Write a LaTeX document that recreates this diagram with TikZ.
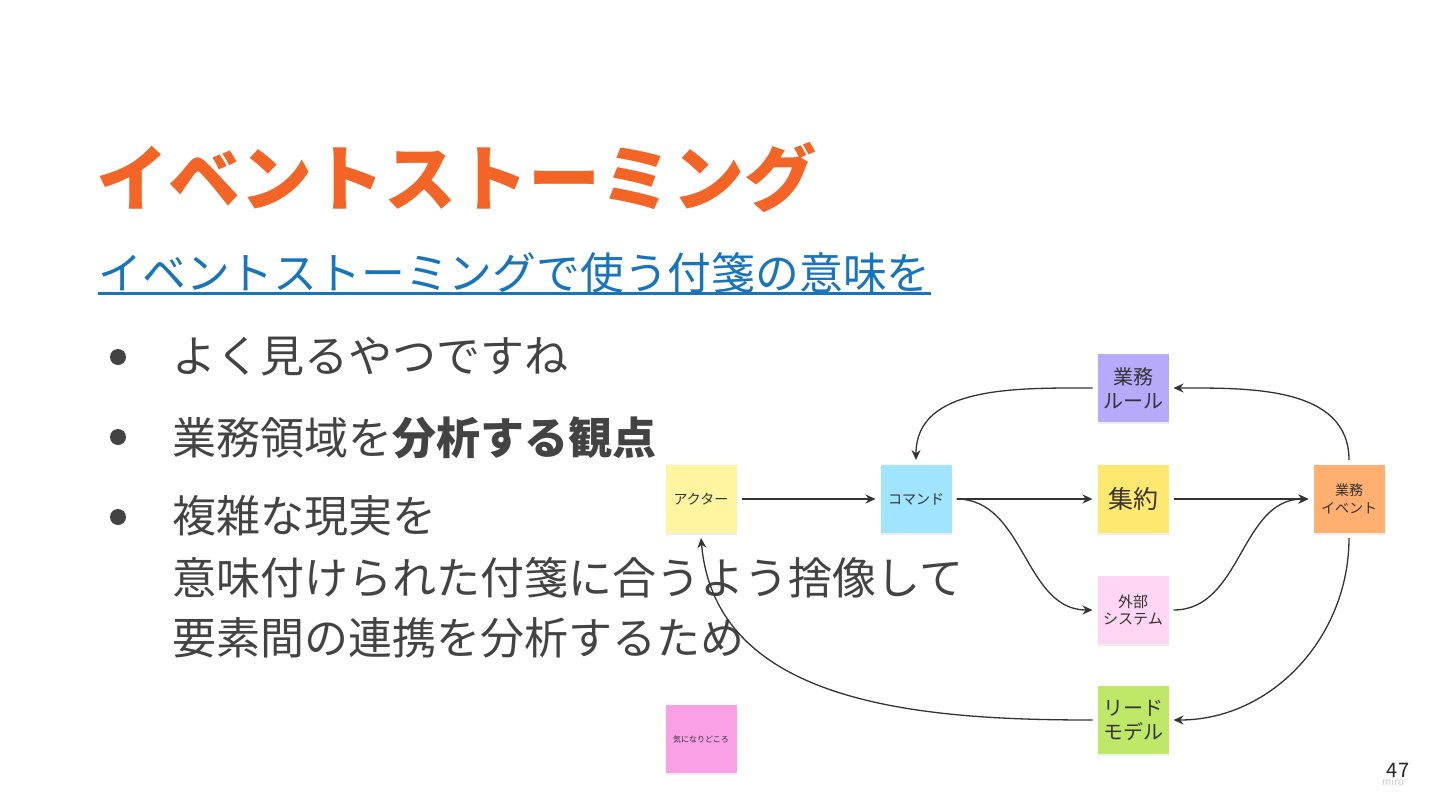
\documentclass[tikz,border=0pt]{standalone}
\usepackage{fontspec}
\setmainfont{Noto Sans CJK JP}
\usetikzlibrary{arrows.meta,shadows}
\definecolor{titleorange}{RGB}{242,101,38}
\definecolor{linkblue}{RGB}{24,116,188}
\definecolor{bodygray}{RGB}{67,67,67}
\definecolor{actoryellow}{RGB}{255,245,160}
\definecolor{commandblue}{RGB}{160,228,255}
\definecolor{rulepurple}{RGB}{184,170,250}
\definecolor{aggyellow}{RGB}{255,232,112}
\definecolor{eventorange}{RGB}{255,176,112}
\definecolor{extpink}{RGB}{255,214,243}
\definecolor{readgreen}{RGB}{192,232,104}
\definecolor{hotpink}{RGB}{250,160,230}
\newcommand{\fs}[2]{\fontsize{#1}{#2}\selectfont}

\begin{document}
\begin{tikzpicture}[x=0.5pt,y=-0.5pt,
  note/.style={minimum width=35.5pt,minimum height=34pt,inner sep=0pt,outer sep=2.5pt,
    align=center,text=black!80,font=\fs{7}{9},
    drop shadow={shadow xshift=0pt,shadow yshift=-1.2pt,opacity=0.12}},
  flow/.style={draw=black!80,line width=0.65pt,-{Stealth[length=5pt,width=4.5pt]}},
  dot/.style={circle,fill=bodygray,inner sep=0pt,minimum size=8pt},
  line/.style={anchor=base west,inner sep=0pt,text=bodygray,font=\fs{22}{26}}]
\useasboundingbox (0,0) rectangle (1440,810);
\fill [white] (0,0) rectangle (1440,810);
% heading
\node [anchor=base west,inner sep=0pt,text=titleorange,font=\fs{36}{40}\bfseries] (title) at (96,205) {イベントストーミング};
\node [anchor=base west,inner sep=0pt,text=linkblue,font=\fs{21.9}{24}] (link) at (98,289) {イベントストーミングで使う付箋の意味を};
\draw [linkblue,line width=1.5pt] ([yshift=-2.4pt]link.base west) -- ([yshift=-2.4pt]link.base east);
% bullets
\node [dot] (dot1) at (118,357) {};
\node [dot] (dot2) at (118,437) {};
\node [dot] (dot3) at (118,517) {};
\node [line] (item1) at (172,372) {よく見るやつですね};
\node [line] (item2) at (172,454) {業務領域を\textbf{分析する観点}};
\node [line] (item3a) at (172,532) {複雑な現実を};
\node [line] (item3b) at (172,594) {意味付けられた付箋に合うよう捨像して};
\node [line] (item3c) at (172,654) {要素間の連携を分析するため};
% sticky notes
\node [note,fill=actoryellow] (actor) at (701,499) {アクター};
\node [note,fill=commandblue] (command) at (916,499) {コマンド};
\node [note,fill=rulepurple,font=\fs{10}{12}] (rule) at (1133,388) {業務\\ルール};
\node [note,fill=aggyellow,font=\fs{12.5}{14}] (aggregate) at (1133,499) {集約};
\node [note,fill=eventorange,font=\fs{7}{9}] (event) at (1349,499) {業務\\イベント};
\node [note,fill=extpink,font=\fs{7.5}{8.5}] (external) at (1133,610) {外部\\システム};
\node [note,fill=readgreen,font=\fs{10}{12}] (readmodel) at (1133,720) {リード\\モデル};
\node [note,fill=hotpink,font=\fs{4}{5}] (hotspot) at (701,739) {気になりどころ};
% connectors
\draw [flow] (actor) -- (command);
\draw [flow] (command) -- (aggregate);
\draw [flow] (command.east) to[out=0,in=180] (external.west);
\draw [flow] (aggregate) -- (event);
\draw [flow] (external.east) to[out=0,in=180] (event.west);
\draw [flow] (event.north) to[out=90,in=0] (rule.east);
\draw [flow] (rule.west) to[out=180,in=90] (command.north);
\draw [flow] (event.south) to[out=-90,in=0] (readmodel.east);
\draw [flow] (readmodel.west) to[out=180,in=-85] (actor.south);
% page number
\node [inner sep=0pt,font=\fs{10}{12},text=black!85] (page) at (1398,770) {47};
\node [inner sep=0pt,font=\fs{5}{6},text=black!20] (brand) at (1393,782) {miro};
\end{tikzpicture}
\end{document}
